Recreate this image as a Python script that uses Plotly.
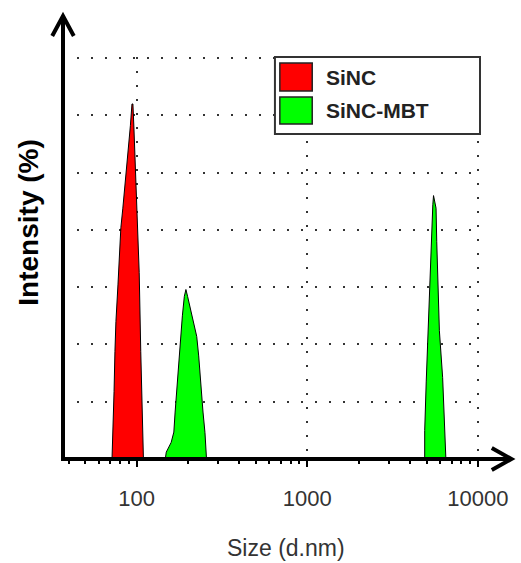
import plotly.graph_objects as go

# ---- data ----
sinc_size = [71.8, 72.3, 73.8, 74.7, 75.7, 77.8, 79.5, 80.9, 83.1, 86.1, 88.8, 92.0, 94.0,
             95.2, 96.5, 98.7, 101.3, 103.6, 105.8, 107.3, 108.7, 109.7]
sinc_int = [0, 2.2, 5.9, 9.4, 12.0, 15.2, 17.8, 20.2, 21.9, 24.2, 26.5, 29.1, 31.0,
            31.0, 28.9, 24.5, 20.2, 16.3, 9.4, 5.7, 1.6, 0]

mbt_size = [147.3, 149.3, 159.5, 165.3, 168.2, 172.7, 176.0, 180.7, 185.5, 190.5, 194.6,
            199.0, 207.9, 217.5, 225.1, 231.2, 237.3, 245.0, 251.6, 256.9,
            4875, 4876, 4978, 5092, 5208, 5319, 5440, 5492,
            5682, 5735, 5835, 5944, 6211, 6352, 6488]
mbt_int = [0, 0.6, 1.45, 2.35, 4.1, 6.4, 8.4, 10.7, 12.5, 14.2, 14.8,
           14.2, 13.0, 11.9, 10.7, 9.0, 6.4, 4.1, 2.3, 0,
           0, 2.5, 6.8, 11.2, 15.2, 19.0, 22.2, 23.0,
           21.9, 19.0, 15.2, 11.2, 7.1, 3.3, 0]

series_names = ["SiNC", "SiNC-MBT"]
series_colors = ["#FF0000", "#00FF00"]

x_tickvals = [100, 1000, 10000]
x_ticktext = ["100", "1000", "10000"]
x_minor = [40, 50, 60, 70, 80, 90, 200, 300, 400, 500, 600, 700, 800, 900,
           2000, 3000, 4000, 5000, 6000, 7000, 8000, 9000]
y_gridvals = [5, 10, 15, 20, 25, 30, 35]

x_title = "Size (d.nm)"
y_title = "Intensity (%)"

# ---- layout geometry ----
W, H = 521, 563
XR = [1.569, 4.012]
L, T, B = 63, 57, 104
PW = round((XR[1] - XR[0]) * 174)
R = W - L - PW
PH = H - T - B


def px(x):
    return (x - L) / PW


def py(y):
    return (H - B - y) / PH


FONT = "Liberation Sans, Arial"

fig = go.Figure()
fig.add_trace(go.Scatter(x=sinc_size, y=sinc_int, mode="lines", fill="tozeroy",
                         fillcolor=series_colors[0], line=dict(color="black", width=1),
                         name=series_names[0], showlegend=False))
fig.add_trace(go.Scatter(x=mbt_size, y=mbt_int, mode="lines", fill="tozeroy",
                         fillcolor=series_colors[1], line=dict(color="black", width=1),
                         name=series_names[1], showlegend=False))

shapes = []
axis_line = dict(color="black", width=4)
# axes with arrows
shapes.append(dict(type="line", xref="paper", yref="paper", x0=0, y0=py(461), x1=0, y1=py(18), line=axis_line, layer="above"))
shapes.append(dict(type="line", xref="paper", yref="paper", x0=px(61), y0=0, x1=px(517), y1=0, line=axis_line, layer="above"))
shapes.append(dict(type="path", xref="paper", yref="paper",
                   path=f"M {px(52)} {py(36)} L {px(63)} {py(16)} L {px(74)} {py(36)}",
                   line=dict(color="black", width=4), layer="above"))
shapes.append(dict(type="path", xref="paper", yref="paper",
                   path=f"M {px(500)} {py(448)} L {px(520)} {py(459)} L {px(500)} {py(470)}",
                   line=dict(color="black", width=4), layer="above"))
# legend box
shapes.append(dict(type="rect", xref="paper", yref="paper", x0=px(279), x1=px(488), y0=py(134), y1=py(57),
                   line=dict(color="#333", width=2), fillcolor="white", layer="above"))
shapes.append(dict(type="rect", xref="paper", yref="paper", x0=px(284), x1=px(317), y0=py(91), y1=py(63),
                   line=dict(color="#222", width=1.5), fillcolor=series_colors[0], layer="above"))
shapes.append(dict(type="rect", xref="paper", yref="paper", x0=px(284), x1=px(317), y0=py(124), y1=py(97),
                   line=dict(color="#222", width=1.5), fillcolor=series_colors[1], layer="above"))

annotations = [
    dict(text=series_names[0], xref="paper", yref="paper", x=px(329), y=py(77), xanchor="left", yanchor="middle",
         showarrow=False, font=dict(family=FONT, size=21, color="#222", weight="bold")),
    dict(text=series_names[1], xref="paper", yref="paper", x=px(329), y=py(110.5), xanchor="left", yanchor="middle",
         showarrow=False, font=dict(family=FONT, size=21, color="#222", weight="bold")),
    dict(text=y_title, xref="paper", yref="paper", x=px(27), y=py(223), xanchor="center", yanchor="middle",
         textangle=-90, showarrow=False,
         font=dict(family=FONT, size=28, color="black", weight="bold")),
    dict(text=x_title, xref="paper", yref="paper", x=px(290), y=py(548), xanchor="center", yanchor="middle",
         showarrow=False, font=dict(family=FONT, size=23, color="#333")),
]

fig.update_layout(
    width=W, height=H,
    margin=dict(l=L, r=R, t=T, b=B),
    paper_bgcolor="white", plot_bgcolor="white",
    shapes=shapes, annotations=annotations,
    showlegend=False,
    xaxis=dict(type="log", range=XR, tickmode="array", tickvals=x_tickvals, ticktext=x_ticktext,
               showline=False, zeroline=False, ticks="outside", ticklen=7, tickwidth=2, tickcolor="black",
               ticklabelstandoff=13,
               showgrid=True, gridcolor="#333", gridwidth=2, griddash="2px,12px",
               tickfont=dict(family=FONT, size=22, color="#333"),
               minor=dict(tickvals=x_minor, ticks="outside", ticklen=4, tickwidth=1.5, tickcolor="black", showgrid=False)),
    yaxis=dict(range=[0, 35.1], tickmode="array", tickvals=y_gridvals, showticklabels=False, ticks="",
               showline=False, zeroline=False,
               showgrid=True, gridcolor="#333", gridwidth=2, griddash="2px,12px"),
)

fig.write_html("out.html")
